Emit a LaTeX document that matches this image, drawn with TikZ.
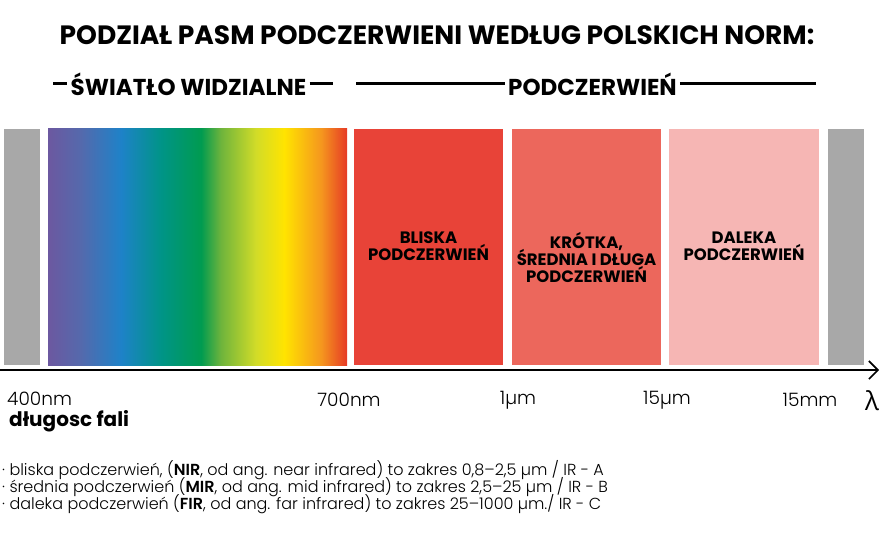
\documentclass[tikz,border=0pt]{standalone}
\usepackage{fontspec}
\setmainfont{Poppins}
\IfFontExistsTF{Poppins Light}{\newfontfamily\lightfont{Poppins Light}}{\newfontfamily\lightfont{Poppins}}
\newfontfamily\greekfont{Open Sans}
\usetikzlibrary{arrows.meta,positioning}
\newcommand\tightlines{\lineskiplimit=-20pt\relax}
\definecolor{bargray}{RGB}{168,168,168}
\definecolor{nircol}{RGB}{232,67,56}
\definecolor{mircol}{RGB}{236,103,92}
\definecolor{fircol}{RGB}{246,182,180}
\definecolor{sp01}{RGB}{108,88,160}
\definecolor{sp02}{RGB}{85,105,172}
\definecolor{sp03}{RGB}{30,130,200}
\definecolor{sp04}{RGB}{0,148,135}
\definecolor{sp05}{RGB}{0,155,80}
\definecolor{sp06}{RGB}{110,180,60}
\definecolor{sp07}{RGB}{210,220,40}
\definecolor{sp08}{RGB}{255,228,0}
\definecolor{sp09}{RGB}{245,150,30}
\definecolor{sp10}{RGB}{230,58,38}
% pixel 48..347 mapped onto 25bp..75bp
\pgfdeclarehorizontalshading{spectrum}{100bp}{color(0bp)=(sp01); color(25bp)=(sp01); color(30.4bp)=(sp02); color(37.2bp)=(sp03); color(43.9bp)=(sp04); color(50.6bp)=(sp05); color(53.9bp)=(sp06); color(59.8bp)=(sp07); color(64.5bp)=(sp08); color(70.7bp)=(sp09); color(75bp)=(sp10); color(100bp)=(sp10)}
\begin{document}
\begin{tikzpicture}[x=1pt,y=-1pt,line cap=butt,
  band/.style={inner sep=0pt,outer sep=0pt,minimum height=236pt,anchor=north west},
  bandtext/.style={font={\bfseries\fontsize{16.5}{17}\selectfont\tightlines},align=center,inner sep=0pt},
  head/.style={font=\bfseries\fontsize{23}{22}\selectfont,inner sep=3pt},
  headline/.style={line width=3pt},
  tick/.style={font=\lightfont\fontsize{18.5}{18}\selectfont,inner sep=0pt}]
\useasboundingbox (0,0) rectangle (880,540);
% title
\node[font=\bfseries\fontsize{26.5}{26}\selectfont] (title) at (437,35) {PODZIAŁ PASM PODCZERWIENI WEDŁUG POLSKICH NORM:};
% headers
\node[head] (vishead) at (188.5,84) {ŚWIATŁO WIDZIALNE};
\node[head] (irhead) at (592.5,84) {PODCZERWIEŃ};
\coordinate (visL) at (53,84); \coordinate (visR) at (333,84);
\coordinate (irL) at (356,84); \coordinate (irR) at (816,84);
\draw[headline] (visL)--(vishead.west) (vishead.east)--(visR);
\draw[headline] (irL)--(irhead.west) (irhead.east)--(irR);
% bands
\node[band,fill=bargray,minimum width=36pt] (grayL) at (4,129) {};
\node[band,shading=spectrum,minimum width=299pt] (vis) at (48,129) {};
\node[band,fill=nircol,minimum width=149pt] (nir) at (354,129) {};
\node[band,fill=mircol,minimum width=149pt] (mir) at (512,129) {};
\node[band,fill=fircol,minimum width=150pt] (fir) at (669,129) {};
\node[band,fill=bargray,minimum width=36pt] (grayR) at (828,129) {};
\node[bandtext,below=103pt of nir.north] (nirtext) {BLISKA\\PODCZERWIEŃ};
\node[bandtext,below=103pt of mir.north] (mirtext) {KRÓTKA,\\ŚREDNIA I DŁUGA\\PODCZERWIEŃ};
\node[bandtext,below=103pt of fir.north] (firtext) {DALEKA\\PODCZERWIEŃ};
% axis
\coordinate (axL) at (0,370); \coordinate (axR) at (879,370);
\draw[line width=2.4pt,-{Straight Barb[length=9pt,width=18pt,line width=1.6pt]}] (axL)--(axR);
\node[tick,anchor=west] (t400) at (7,399) {400nm};
\node[tick] (t700) at (349,400) {700nm};
\node[tick] (t1um) at (518,400) {1µm};
\node[tick] (t15um) at (667,400) {15µm};
\node[tick] (t15mm) at (810,400) {15mm};
\node[font=\greekfont\fontsize{26}{26}\selectfont,inner sep=0pt] (lambda) at (872,401) {λ};
\node[font=\bfseries\fontsize{20}{20}\selectfont,anchor=north west,inner sep=0pt] (wave) at (9,410) {długosc fali};
% legend
\node[font={\lightfont\fontsize{16}{17}\selectfont\tightlines},align=left,anchor=north west,inner sep=0pt] (legend) at (2,460)
  {· bliska podczerwień, (\textbf{NIR}, od ang. near infrared) to zakres 0,8–2,5 µm / IR - A\\
   · średnia podczerwień (\textbf{MIR}, od ang. mid infrared) to zakres 2,5–25 µm / IR - B\\
   · daleka podczerwień (\textbf{FIR}, od ang. far infrared) to zakres 25–1000 µm./ IR - C};
\end{tikzpicture}
\end{document}
